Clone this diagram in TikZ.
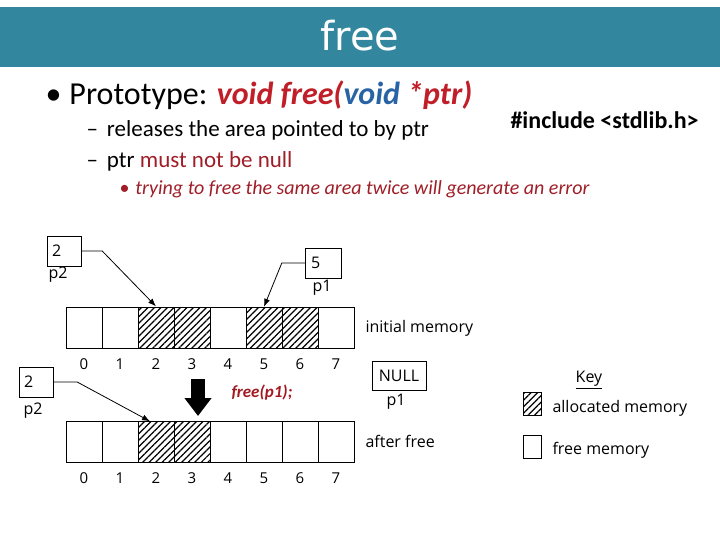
\documentclass[tikz,border=0pt]{standalone}
\usepackage{fontspec}
\setmainfont{Carlito}
\newfontfamily\diagfont{Open Sans}
\newfontfamily\titlefont{DejaVu Sans}
\usetikzlibrary{arrows.meta,patterns.meta}
\definecolor{bannerteal}{RGB}{50,134,158}
\definecolor{protored}{RGB}{192,30,40}
\definecolor{protoblue}{RGB}{40,100,165}
\definecolor{notered}{RGB}{160,30,40}

\tikzset{
  cell/.style={draw, minimum width=36pt, minimum height=41pt, inner sep=0pt},
  used/.style={cell, pattern={Lines[angle=45,distance=4.6pt,line width=1.2pt]}},
  ptrbox/.style={draw, minimum width=34pt, minimum height=30pt, text width=24pt,
    inner xsep=5pt, inner ysep=0pt, font=\diagfont\fontsize{16}{18}\selectfont},
  lbl/.style={font=\diagfont\fontsize{16}{18}\selectfont},
  idx/.style={font=\diagfont\fontsize{15}{17}\selectfont},
  ptrarrow/.style={-{Latex[length=8pt,width=6pt]}, thick}
}

\begin{document}
\begin{tikzpicture}[x=1pt, y=-1pt]
    \useasboundingbox (0,0) rectangle (720,540);

    % title banner
    \fill[bannerteal] (0,7) rectangle (720,67);
    \node[white, font=\titlefont\fontsize{40}{42}\selectfont] (title) at (360,36) {free};

    % bullet text
    \node[anchor=base west, font=\fontsize{32}{36}\selectfont] (proto) at (42,105)
      {\textbullet\hspace{8pt}Prototype: \textcolor{protored}{\textbf{\textit{void free(}}}\textcolor{protoblue}{\textbf{\textit{void}}}\textcolor{protored}{\textbf{\textit{ *ptr)}}}};
    \node[anchor=base west, font=\fontsize{23}{26}\selectfont] (rel) at (83,137)
      {--\hspace{9pt}releases the area pointed to by ptr};
    \node[anchor=base west, font=\fontsize{23}{26}\selectfont] (null) at (83,168)
      {--\hspace{9pt}ptr \textcolor{notered}{must not be null}};
    \node[anchor=base west, font=\fontsize{20}{24}\selectfont, notered] (twice) at (116,195)
      {\textbullet\hspace{6pt}\textit{trying to free the same area twice will generate an error}};
    \node[anchor=base west, font=\bfseries\fontsize{24}{28}\selectfont] (incl) at (507,129)
      {\#include <stdlib.h>};

    % initial memory
    \foreach \i/\s in {0/cell,1/cell,2/used,3/used,4/cell,5/used,6/used,7/cell} {
      \node[\s] (m\i) at (84+36*\i, 327.5) {};
      \node[idx] (ia\i) at (84+36*\i, 364) {\i};
    }
    \node[lbl, anchor=west] (initlbl) at (362,328) {initial memory};

    \node[ptrbox] (pb) at (64,251) {2};
    \node[lbl] (pblbl) at (58,275) {p2};
    \node[ptrbox, minimum width=36pt] (pa) at (323,263) {5};
    \node[lbl] (palbl) at (322,288) {p1};
    \draw[ptrarrow] (pb.east) -- ++(21,0) -- (m2.north);
    \draw[ptrarrow] (pa.west) -- ++(-23,0) -- (m5.north);

    % after free
    \foreach \i/\s in {0/cell,1/cell,2/used,3/used,4/cell,5/cell,6/cell,7/cell} {
      \node[\s] (n\i) at (84+36*\i, 442) {};
      \node[idx] (ib\i) at (84+36*\i, 478) {\i};
    }
    \node[lbl, anchor=west] (afterlbl) at (362,441) {after free};

    \node[ptrbox] (qb) at (36,382) {2};
    \node[lbl] (qblbl) at (33,411) {p2};
    \node[draw, lbl, minimum width=54pt, minimum height=29pt, inner sep=0pt] (qa) at (399,376) {NULL};
    \node[lbl] (qalbl) at (396,402) {p1};
    \draw[ptrarrow] (qb.east) -- ++(24,0) -- ([xshift=-6pt]n2.north);

    % free call
    \coordinate (bigtop) at (198,379);
    \coordinate (bigtip) at (198,416);
    \draw[line width=14pt, -{Triangle[length=18pt,width=26pt]}] (bigtop) -- (bigtip);
    \node[protored!85!black, font=\bfseries\itshape\fontsize{17}{19}\selectfont] (call) at (262,393) {free(p1);};

    % key
    \node[lbl] (key) at (589,380) {\underline{Key}};
    \node[used, minimum width=18pt, minimum height=23pt] (keyused) at (532,404) {};
    \node[lbl, anchor=west] (usedlbl) at (549,408) {allocated memory};
    \node[cell, minimum width=18pt, minimum height=23pt] (keyfree) at (532,447) {};
    \node[lbl, anchor=west] (freelbl) at (549,450) {free memory};
\end{tikzpicture}
\end{document}
